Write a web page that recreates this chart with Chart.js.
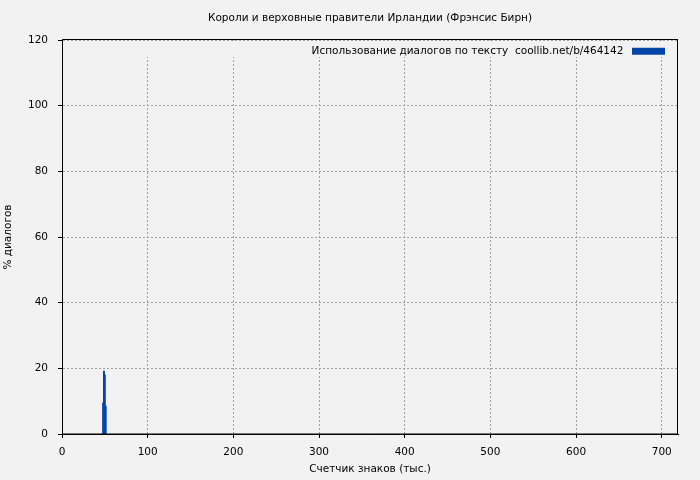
<!DOCTYPE html>
<html>
<head>
<meta charset="utf-8">
<script src="https://cdn.jsdelivr.net/npm/chart.js@4"></script>
<style>
  body { margin: 0; background: #f2f2f2; }
  canvas { display: block; }
</style>
</head>
<body>
<canvas id="chart" width="700" height="480"></canvas>
<script>
const TITLE = 'Короли и верховные правители Ирландии (Фрэнсис Бирн)';
const SERIES_NAME = 'Использование диалогов по тексту  coollib.net/b/464142';
const X_TITLE = 'Счетчик знаков (тыс.)';
const Y_TITLE = '% диалогов';

// position in thousands of chars, % of dialogue
const positions = [48, 49, 50, 51];
const dialogPct = [9.5, 19.2, 18.0, 8.5];

const xMax = 719;
const yMax = 120;

Chart.defaults.font.family = 'DejaVu Sans';
Chart.defaults.font.size = 10.5;
Chart.defaults.color = '#000';

// legend sits inside the plot, top right, over a blank strip
const legendInside = {
    id: 'legendInside',
    afterLayout(chart) {
        const lg = chart.legend;
        const area = chart.chartArea;
        const p = lg.options.labels.padding;
        lg.left = area.right - 13 - lg.width + p;
        lg.right = lg.left + lg.width;
        lg.top = area.top + 6 - p;
        lg.bottom = lg.top + lg.height;
    },
    afterDraw(chart) {
        const ctx = chart.ctx;
        const area = chart.chartArea;
        ctx.save();
        ctx.fillStyle = '#f2f2f2';
        ctx.fillRect(area.left + 1, area.top + 1, area.right - area.left - 2, 16);
        ctx.restore();
        chart.legend.draw();
        ctx.save();
        ctx.strokeStyle = '#000';
        ctx.lineWidth = 1;
        ctx.setLineDash([]);
        ctx.strokeRect(Math.round(area.left) + 0.5, Math.round(area.top) - 0.5,
            Math.round(area.right - area.left) - 1, Math.round(area.bottom - area.top) + 0.5);
        ctx.restore();
    }
};

const gridOpts = {
    color: '#a0a0a0',
    lineWidth: 1,
    tickLength: 4,
    tickColor: '#000',
    tickBorderDash: [],
    tickWidth: 1
};

new Chart(document.getElementById('chart'), {
    type: 'bar',
    data: {
        datasets: [{
            label: SERIES_NAME + ' ',
            data: positions.map((x, i) => ({ x: x, y: dialogPct[i] })),
            backgroundColor: '#0645a8',
            borderWidth: 0,
            barThickness: 1.3,
            grouped: false
        }]
    },
    plugins: [legendInside],
    options: {
        responsive: false,
        animation: false,
        layout: { padding: { right: 22 } },
        plugins: {
            title: {
                display: true,
                fullSize: false,
                text: TITLE,
                font: { size: 10.5, weight: 'normal' },
                padding: { top: 12, bottom: 15.4 }
            },
            legend: {
                position: 'chartArea',
                align: 'start',
                rtl: true,
                labels: {
                    boxWidth: 33,
                    boxHeight: 7,
                    padding: 4,
                    font: { size: 10.5 }
                }
            },
            tooltip: { enabled: false }
        },
        scales: {
            x: {
                type: 'linear',
                min: 0,
                max: xMax,
                offset: false,
                grid: Object.assign({ offset: false }, gridOpts),
                border: { color: '#000', dash: [2, 2] },
                ticks: { stepSize: 100, includeBounds: false, padding: 8, maxRotation: 0 },
                title: { display: true, text: X_TITLE, padding: { top: 0, bottom: 4 } },
                afterFit(scale) { scale.height = 46; }
            },
            y: {
                min: 0,
                max: yMax,
                grid: gridOpts,
                border: { color: '#000', dash: [2, 2] },
                ticks: { stepSize: 20, padding: 10 },
                title: { display: true, text: Y_TITLE, padding: { top: 2, bottom: 0 } },
                afterFit(scale) { scale.width = 62; }
            }
        }
    }
});
</script>
</body>
</html>
